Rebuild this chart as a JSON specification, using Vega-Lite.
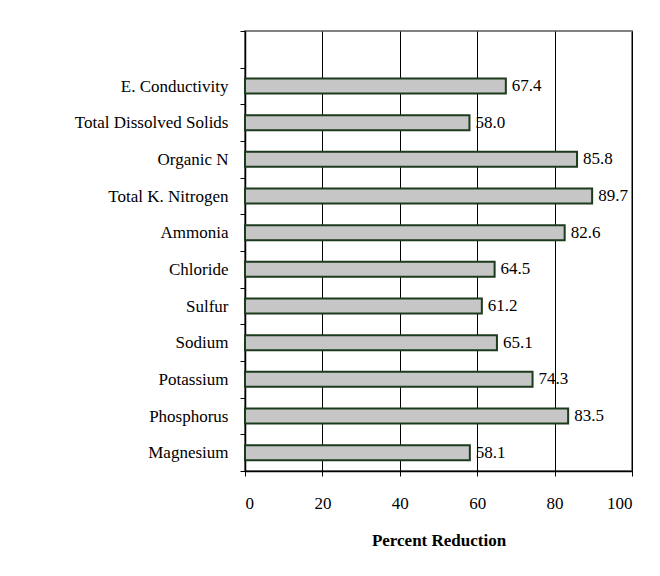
{
  "$schema": "https://vega.github.io/schema/vega-lite/v6.json",
  "autosize": "none",
  "width": 387,
  "height": 440,
  "padding": {"left": 245, "top": 31, "right": 28, "bottom": 105},
  "background": "white",
  "config": {
    "font": "Liberation Serif",
    "view": {"stroke": "#808080", "strokeWidth": 2},
    "axis": {"labelFont": "Liberation Serif", "titleFont": "Liberation Serif", "labelColor": "black", "titleColor": "black"}
  },
  "data": {
    "values": [
      {"param": "E. Conductivity", "value": 67.4},
      {"param": "Total Dissolved Solids", "value": 58.0},
      {"param": "Organic N", "value": 85.8},
      {"param": "Total K. Nitrogen", "value": 89.7},
      {"param": "Ammonia", "value": 82.6},
      {"param": "Chloride", "value": 64.5},
      {"param": "Sulfur", "value": 61.2},
      {"param": "Sodium", "value": 65.1},
      {"param": "Potassium", "value": 74.3},
      {"param": "Phosphorus", "value": 83.5},
      {"param": "Magnesium", "value": 58.1}
    ]
  },
  "encoding": {
    "y": {
      "field": "param",
      "type": "nominal",
      "scale": {
        "domain": [" ", "E. Conductivity", "Total Dissolved Solids", "Organic N", "Total K. Nitrogen", "Ammonia", "Chloride", "Sulfur", "Sodium", "Potassium", "Phosphorus", "Magnesium"],
        "paddingInner": 0,
        "paddingOuter": 0
      },
      "axis": {
        "title": null,
        "labelFontSize": 17,
        "labelPadding": 12,
        "tickBand": "extent",
        "tickSize": 5,
        "tickColor": "black",
        "domainColor": "black",
        "domainWidth": 1.5,
        "grid": false
      }
    },
    "x": {
      "field": "value",
      "type": "quantitative",
      "scale": {"domain": [0, 100], "nice": false},
      "axis": {
        "title": "Percent Reduction",
        "titleFontSize": 17,
        "titleFontWeight": "bold",
        "titlePadding": 21,
        "values": [0, 20, 40, 60, 80, 100],
        "labelFontSize": 17,
        "labelPadding": 19,
        "tickSize": 5,
        "tickColor": "black",
        "domainColor": "black",
        "domainWidth": 1.5,
        "grid": true,
        "gridColor": "black",
        "gridOpacity": 1,
        "gridWidth": 1
      }
    }
  },
  "layer": [
    {
      "mark": {"type": "bar", "height": {"band": 0.41}, "fill": "#c6c6c6", "stroke": "#1c3a1c", "strokeWidth": 2}
    },
    {
      "mark": {"type": "text", "align": "left", "baseline": "middle", "dx": 6, "fontSize": 17, "font": "Liberation Serif", "color": "black"},
      "encoding": {"text": {"field": "value", "type": "quantitative", "format": ".1f"}}
    }
  ]
}
